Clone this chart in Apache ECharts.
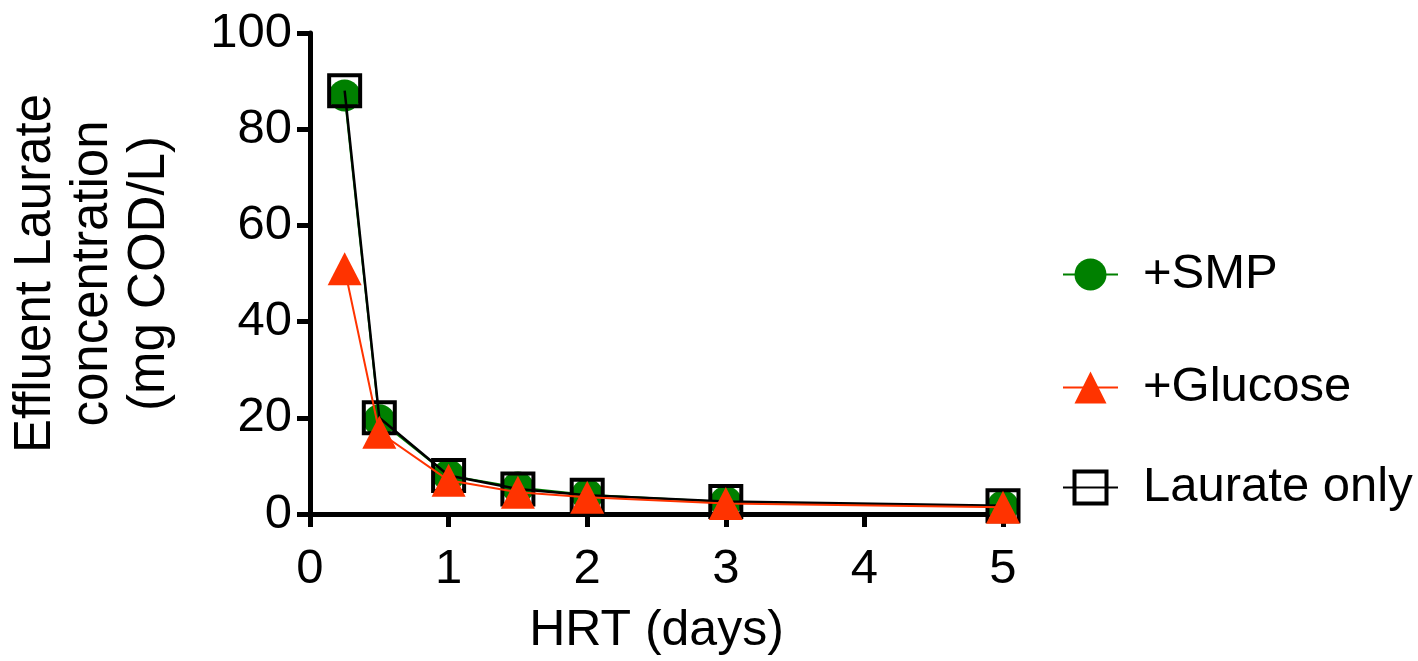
<!DOCTYPE html>
<html>
<head>
<meta charset="utf-8">
<script src="https://cdn.jsdelivr.net/npm/echarts@6/dist/echarts.min.js"></script>
<style>
html,body{margin:0;padding:0;background:#fff;}
#chart{width:1418px;height:661px;}
</style>
</head>
<body>
<div id="chart"></div>
<script>
const hrt = [0.25, 0.5, 1, 1.5, 2, 3, 5];
const smp = [87, 19.5, 8, 5.5, 4, 2.5, 1.6];
const glucose = [51, 17, 7, 4.5, 3.5, 2.2, 1.4];
const laurate = [88, 20, 8, 5.2, 3.9, 2.6, 1.7];
const yTicks = [0, 20, 40, 60, 80, 100];
const xTicks = [0, 1, 2, 3, 4, 5];

const FONT = '"Liberation Sans", Arial, sans-serif';
const pairs = (xs, ys) => xs.map((x, i) => [x, ys[i]]);

const chart = echarts.init(document.getElementById('chart'), null, {renderer: 'canvas'});

function legendFor(name, top, extra) {
  return Object.assign({
    data: [name], left: 1062, top: top, orient: 'vertical', padding: 0,
    itemWidth: 55, itemHeight: 40,
    textStyle: {fontFamily: FONT, fontSize: 49, color: '#000', padding: [0, 0, 0, 20]},
    selectedMode: false
  }, extra || {});
}

chart.setOption({
  animation: false,
  backgroundColor: '#fff',
  grid: {left: 310, right: 415, top: 33, bottom: 144, containLabel: false},
  legend: [
    legendFor('+SMP', 250),
    legendFor('+Glucose', 363),
    legendFor('Laurate only', 463, {itemStyle: {borderWidth: 4, borderColor: '#000', color: 'rgba(0,0,0,0)'}})
  ],
  xAxis: {
    type: 'value', min: 0, max: 5, interval: 1,
    name: 'HRT (days)', nameLocation: 'middle', nameGap: 92,
    nameTextStyle: {fontFamily: FONT, fontSize: 50, color: '#000'},
    axisLine: {show: true, onZero: false, lineStyle: {color: '#000', width: 5}},
    axisTick: {show: true, length: 13, lineStyle: {color: '#000', width: 5}},
    axisLabel: {fontFamily: FONT, fontSize: 49, color: '#000', margin: 31,
      formatter: v => xTicks.includes(v) ? String(v) : ''},
    splitLine: {show: false}
  },
  yAxis: {
    type: 'value', min: 0, max: 100, interval: 20,
    name: 'Effluent Laurate\nconcentration\n(mg COD/L)', nameLocation: 'middle', nameGap: 132,
    nameTextStyle: {fontFamily: FONT, fontSize: 51, color: '#000', lineHeight: 57, align: 'center'},
    axisLine: {show: true, onZero: false, lineStyle: {color: '#000', width: 5}},
    axisTick: {show: true, length: 13, lineStyle: {color: '#000', width: 5}},
    axisLabel: {fontFamily: FONT, fontSize: 49, color: '#000', margin: 18,
      formatter: v => yTicks.includes(v) ? String(v) : ''},
    splitLine: {show: false}
  },
  series: [
    {
      name: '+SMP', type: 'line', data: pairs(hrt, smp),
      symbol: 'circle', symbolSize: 32,
      lineStyle: {color: '#008000', width: 2},
      itemStyle: {color: '#008000'}, z: 2
    },
    {
      name: 'Laurate only', type: 'line', data: pairs(hrt, laurate),
      symbol: 'rect', symbolSize: 31,
      lineStyle: {color: '#000', width: 2.5},
      itemStyle: {color: 'rgba(0,0,0,0)', borderColor: '#000', borderWidth: 4}, z: 3
    },
    {
      name: '+Glucose', type: 'line', data: pairs(hrt, glucose),
      symbol: 'triangle', symbolSize: [34, 33],
      lineStyle: {color: '#ff3300', width: 2},
      itemStyle: {color: '#ff3300'}, z: 4
    }
  ]
});
</script>
</body>
</html>
